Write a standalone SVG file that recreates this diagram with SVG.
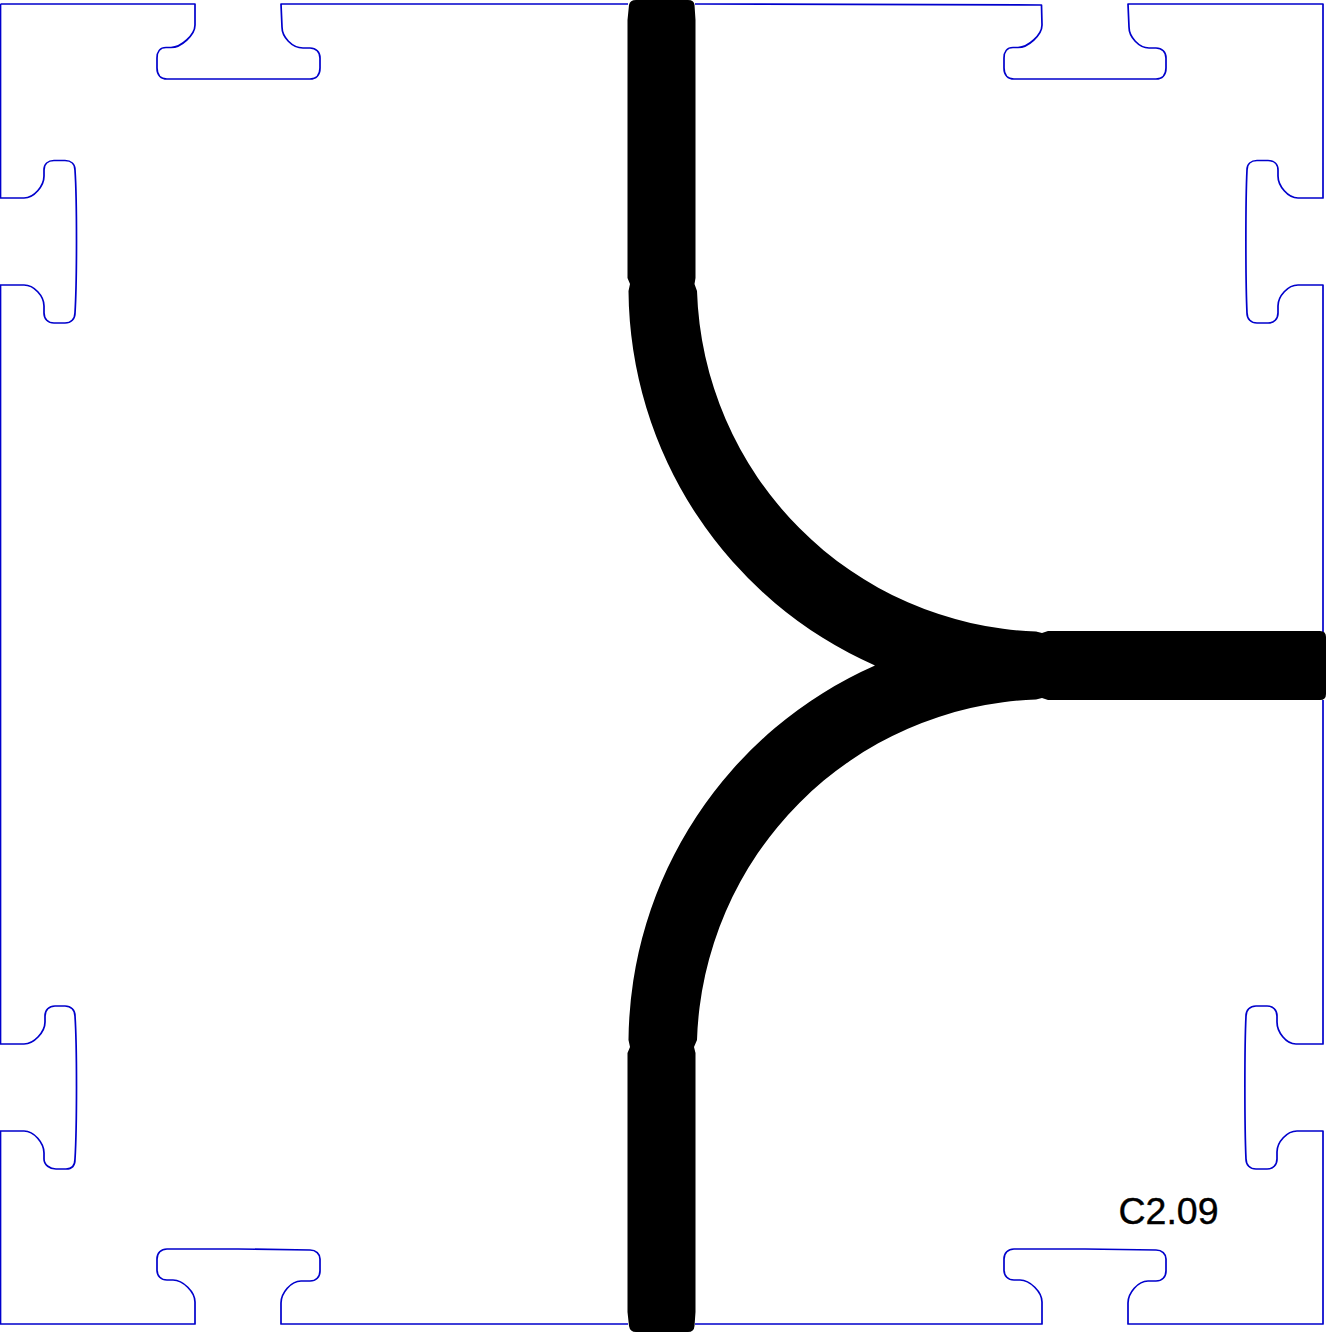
<svg xmlns="http://www.w3.org/2000/svg" width="1326" height="1332" viewBox="0 0 1326 1332">
<style>
.o{fill:none;stroke:#0000cc;stroke-width:1.7;stroke-linejoin:round}
.t{fill:#000;stroke:none}
text{font-family:"Liberation Sans",Arial,sans-serif;font-size:37.5px;fill:#000;stroke:#000;stroke-width:.4}
</style>
<rect width="1326" height="1332" fill="#fff"/>
<g id="outline">
<path class="o" d="M0.5 4H195V25C195 35 181 47.5 171 47.5H166C160 47.5 157 52 157 58V68C157 75 161 79 167 79H310C316 79 320 75 320 68V58C320 52 316 48 310 48H303C292 48 282 37 282 27L281 4H628"/>
<path class="o" d="M695 4L1041.500 5L1042 25C1042 35 1028 47.500 1018 47.500H1013C1007 47.500 1004 52 1004 58V68C1004 75 1008 79 1014 79H1156C1162 79 1166 75 1166 68V58C1166 52 1162 48 1156 48H1149C1139 48 1129 37 1129 27L1128 4H1323V198H1298C1288 198 1278 186 1278 176V170C1278 164 1274 160.500 1268 160.500H1257C1251 160.500 1247 164 1247 170C1245.500 200 1245.500 280 1247 313C1247 319 1251 323 1257 323H1268C1274 323 1278 319 1278 313V306C1278 296 1288 285 1298 285H1323V632"/>
<path class="o" d="M1323 700V1044H1296C1286 1044 1277 1032 1277 1022V1016C1277 1010 1273 1006 1267 1006H1256C1250 1006 1246 1010 1246 1016C1244.500 1046 1244.500 1126 1246 1159C1246 1165 1250 1169 1256 1169H1267C1273 1169 1277 1165 1277 1159V1152C1277 1142 1287 1131 1297 1131H1323V1324H1128V1303C1128 1293 1138 1281 1148 1281H1156C1162 1281 1166 1277 1166 1271V1259C1166 1254 1162 1250 1156 1250L1085 1249H1014C1008 1249 1004 1253 1004 1259V1270C1004 1276 1008 1280 1014 1280H1020C1030 1280 1042 1292 1042 1302V1324H695"/>
<path class="o" d="M628 1324H281V1303C281 1293 291 1281 301 1281H310C316 1281 320 1277 320 1271V1259C320 1254 316 1250 310 1250L238 1249H167C161 1249 157 1253 157 1259V1270C157 1276 161 1280 167 1280H173C183 1280 195 1292 195 1302V1324H0.5V1131H24C34 1131 44 1143 44 1153V1159C44 1165 50 1169 56 1169H66C72 1169 75 1165 75 1159C77 1126 77 1046 75 1016C75 1010 71 1006 65 1006H55C49 1006 45 1010 45 1016V1022C45 1032 34 1044 24 1044H0.5V285H24C34 285 44 296 44 306V313C44 319 48 323 54 323H65C71 323 75 319 75 313C77 280 77 200 75 170C75 164 71 160.500 65 160.500H54C48 160.500 44 164 44 170V176C44 186 34 198 24 198H0.5V4"/>
</g>
<g id="track">
<path class="t" d="M627.500 20L629 5Q630 0 636 0H688Q694 0 694.500 5L695.500 20V278L694.500 284L697 291A352 352 0 0 0 1036 631.500L1042 633L1048 631H1320Q1326 631 1326 637V694Q1326 700 1320 700H1048L1042 698L1036 699.500A352 352 0 0 0 697 1040L694 1047L695.500 1053V1312L694.500 1326Q694 1332 688 1332H636Q630 1332 629 1326L627.500 1312V1053L630 1047L628.500 1040A413 413 0 0 1 875 665.500A413 413 0 0 1 628.500 291L630 284L627.500 278Z"/>
</g>
<g id="label"><text x="1118.500" y="1224">C2.09</text></g>
</svg>
